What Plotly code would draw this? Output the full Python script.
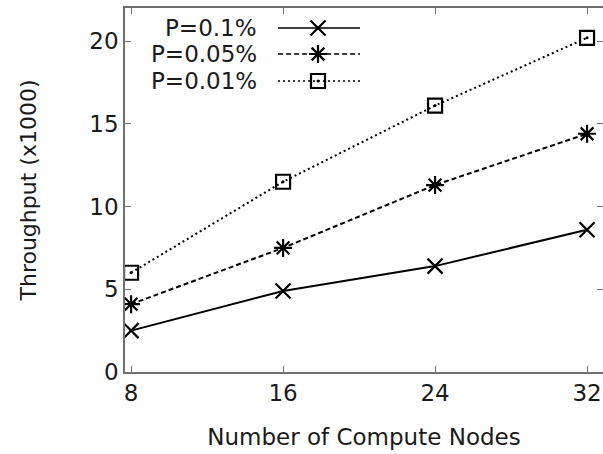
import plotly.graph_objects as go

nodes = [8, 16, 24, 32]
p01 = [2.5, 4.9, 6.4, 8.6]
p005 = [4.1, 7.5, 11.3, 14.4]
p001 = [6.0, 11.5, 16.1, 20.2]
series_names = ["P=0.1%", "P=0.05%", "P=0.01%"]
x_ticks = [8, 16, 24, 32]
y_ticks = [0, 5, 10, 15, 20]

FONT = "DejaVu Sans"
INK = "#1a1a1a"
FRAME = "#707070"

styles = [
    dict(dash="solid", symbol="x-thin-open", size=15),
    dict(dash="5px,3px", symbol="asterisk-open", size=15),
    dict(dash="2px,3px", symbol="square-open", size=14),
]
data = [p01, p005, p001]

fig = go.Figure()
for name, ys, st in zip(series_names, data, styles):
    fig.add_trace(go.Scatter(
        x=nodes, y=ys, mode="lines+markers", name=name,
        line=dict(color="black", width=2, dash=st["dash"]),
        marker=dict(symbol=st["symbol"], size=st["size"], color="black",
                    line=dict(color="black", width=2.2)),
        showlegend=False,
    ))
# centre dots of the square markers
fig.add_trace(go.Scatter(x=nodes, y=p001, mode="markers",
                         marker=dict(symbol="circle", size=3, color="black"),
                         showlegend=False))

# custom legend (text left, sample right) on an overlay pixel axis
leg_rows = [28, 54, 81]
for name, st, yy in zip(series_names, styles, leg_rows):
    fig.add_trace(go.Scatter(
        x=[278, 360], y=[yy, yy], mode="lines", xaxis="x2", yaxis="y2",
        line=dict(color="black", width=1.6, dash=st["dash"]), showlegend=False))
    fig.add_trace(go.Scatter(
        x=[318], y=[yy], mode="markers", xaxis="x2", yaxis="y2",
        marker=dict(symbol=st["symbol"], size=st["size"], color="black",
                    line=dict(color="black", width=2.2)), showlegend=False))
    if st["symbol"] == "square-open":
        fig.add_trace(go.Scatter(
            x=[318], y=[yy], mode="markers", xaxis="x2", yaxis="y2",
            marker=dict(symbol="circle", size=3, color="black"), showlegend=False))
    fig.add_annotation(x=259, y=yy, xref="x2", yref="y2", text=name,
                       showarrow=False, xanchor="right", yanchor="middle",
                       font=dict(family=FONT, size=23, color=INK))

fig.update_layout(
    width=603, height=454,
    margin=dict(l=125, r=0, t=8, b=82),
    paper_bgcolor="white", plot_bgcolor="white",
    font=dict(family=FONT, size=23, color=INK),
    xaxis=dict(range=[7.68, 32.84], tickvals=x_ticks, ticktext=[str(v) for v in x_ticks],
               showgrid=False, zeroline=False, showline=True, linecolor=FRAME, linewidth=1.5,
               mirror="ticks", ticks="inside", ticklen=6, tickcolor=FRAME, tickwidth=1.2,
               automargin=False, ticklabeloverflow="allow",
               tickfont=dict(family=FONT, size=23, color=INK),
               title=dict(text="Number of Compute Nodes", standoff=24,
                          font=dict(family=FONT, size=23, color=INK))),
    yaxis=dict(range=[0, 22], tickvals=y_ticks, ticktext=[str(v) for v in y_ticks],
               showgrid=False, zeroline=False, showline=True, linecolor=FRAME, linewidth=1.5,
               mirror="ticks", ticks="inside", ticklen=6, tickcolor=FRAME, tickwidth=1.2,
               automargin=False, ticklabeloverflow="allow",
               tickfont=dict(family=FONT, size=23, color=INK),
               title=dict(text="Throughput (x1000)", standoff=47,
                          font=dict(family=FONT, size=22, color=INK))),
    xaxis2=dict(overlaying="x", range=[125, 603], visible=False, fixedrange=True),
    yaxis2=dict(overlaying="y", range=[372, 8], visible=False, fixedrange=True),
)

fig.write_html("out.html", config={"displayModeBar": False},
               post_script="document.body.style.margin='0';")
